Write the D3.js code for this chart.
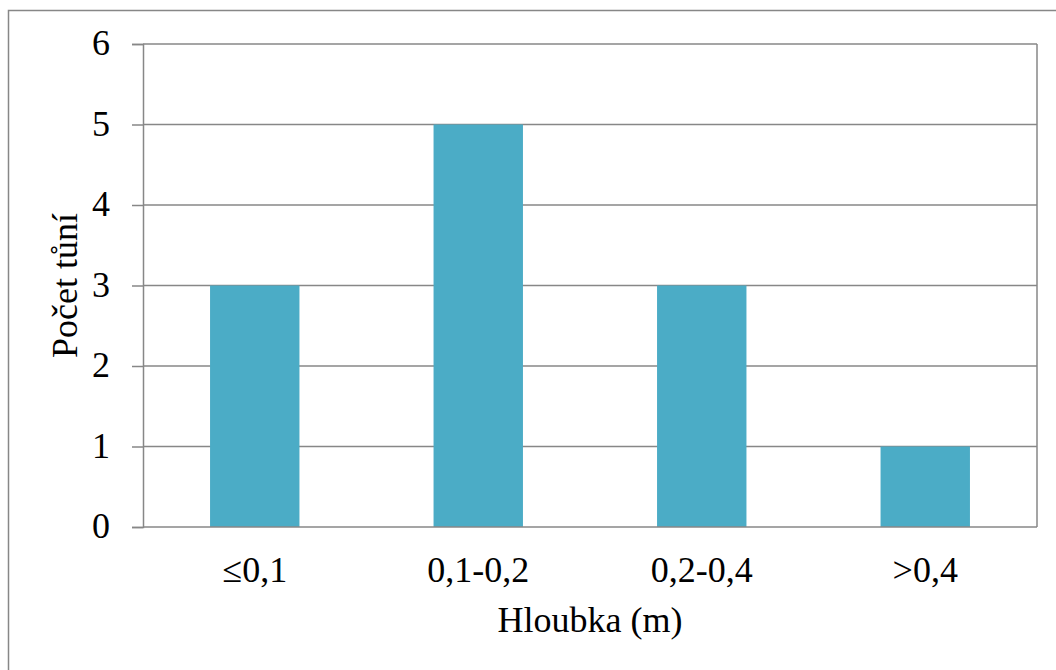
<!DOCTYPE html>
<html>
<head>
<meta charset="utf-8">
<script src="https://cdn.jsdelivr.net/npm/d3@7"></script>
<style>
  html, body { margin: 0; padding: 0; background: #fff; }
  svg { display: block; }
  text { font-family: "Liberation Serif", "Times New Roman", serif; fill: #000; }
</style>
</head>
<body>
<svg id="chart" width="1056" height="670"></svg>
<script>
const categories = ["≤0,1", "0,1-0,2", "0,2-0,4", ">0,4"];
const values = [3, 5, 3, 1];
const yTicks = [0, 1, 2, 3, 4, 5, 6];
const xTitle = "Hloubka (m)";
const yTitle = "Počet tůní";

(function () {
const svg = d3.select("#chart");
const pLeft = 143, pRight = 1037, pTop = 44, pBottom = 527;
const gray = "#878787";
const fs = 36;

// outer border
svg.append("rect")
  .attr("x", 8.5).attr("y", 10.5)
  .attr("width", 1100).attr("height", 700)
  .attr("fill", "none").attr("stroke", gray).attr("stroke-width", 1.5);

const x = d3.scaleBand().domain(categories).range([pLeft, pRight]).paddingInner(0.6).paddingOuter(0.3);
const y = d3.scaleLinear().domain([0, 6]).range([pBottom, pTop]);

// gridlines
svg.append("g").selectAll("line").data(yTicks.filter(d => d > 0)).join("line")
  .attr("x1", pLeft).attr("x2", pRight)
  .attr("y1", d => y(d)).attr("y2", d => y(d))
  .attr("stroke", gray).attr("stroke-width", 1.5);

// bars
svg.append("g").selectAll("rect").data(values).join("rect")
  .attr("x", (d, i) => x(categories[i]))
  .attr("width", x.bandwidth())
  .attr("y", d => y(d))
  .attr("height", d => y(0) - y(d))
  .attr("fill", "#4BACC6");

// right border of plot
svg.append("line").attr("x1", pRight).attr("x2", pRight).attr("y1", pTop).attr("y2", pBottom)
  .attr("stroke", gray).attr("stroke-width", 1.5);

// y axis
const yAxis = svg.append("g").attr("transform", `translate(${pLeft},0)`)
  .call(d3.axisLeft(y).tickValues(yTicks).tickSize(11).tickPadding(22).tickFormat(d3.format("d")));
yAxis.select(".domain").attr("stroke", gray).attr("stroke-width", 1.5);
yAxis.selectAll(".tick line").attr("stroke", gray).attr("stroke-width", 1.5);
yAxis.selectAll(".tick text").attr("font-size", fs).attr("fill", "#000").attr("dy", "0.3em");

// x axis
const xAxis = svg.append("g").attr("transform", `translate(0,${pBottom})`)
  .call(d3.axisBottom(x).tickSize(0).tickPadding(0));
xAxis.select(".domain").attr("stroke", gray).attr("stroke-width", 1.5).attr("d", `M${pLeft},0H${pRight}`);
xAxis.selectAll(".tick text").attr("font-size", fs)
  .attr("fill", "#000").attr("dy", null).attr("y", 55);

// titles
svg.append("text").attr("x", (pLeft + pRight) / 2).attr("y", 632)
  .attr("text-anchor", "middle").attr("font-size", fs).text(xTitle);
svg.append("text").attr("transform", `translate(77,${(pTop + pBottom) / 2}) rotate(-90)`)
  .attr("text-anchor", "middle").attr("font-size", fs).text(yTitle);
})();
</script>
</body>
</html>
